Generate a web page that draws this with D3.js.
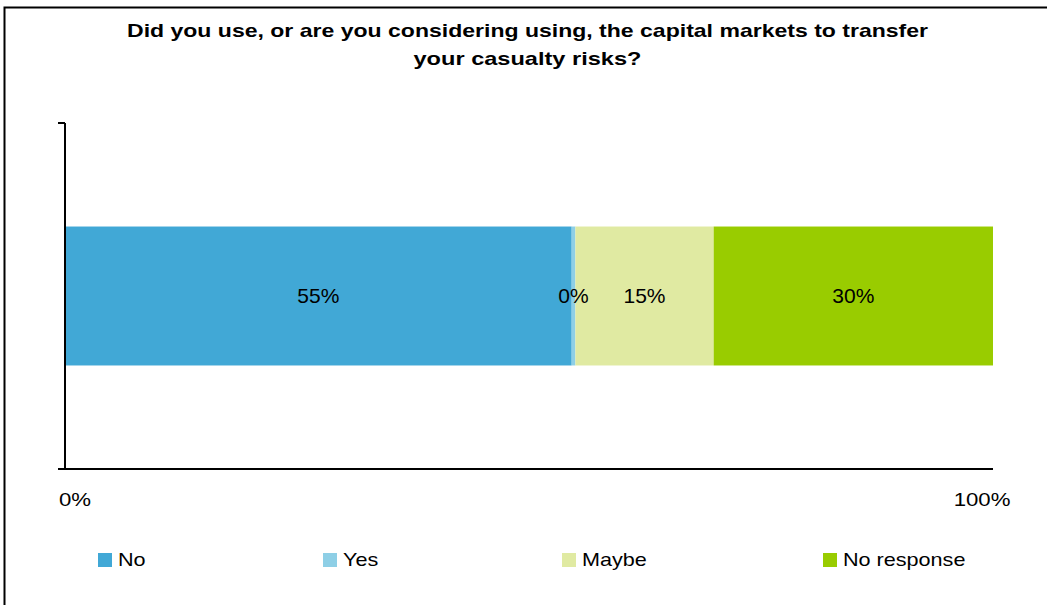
<!DOCTYPE html>
<html>
<head>
<meta charset="utf-8">
<script src="https://cdn.jsdelivr.net/npm/d3@7/dist/d3.min.js"></script>
<style>
  html, body { margin: 0; padding: 0; background: #fff; }
  svg { display: block; font-family: "Liberation Sans", Arial, sans-serif; }
</style>
</head>
<body>
<svg id="chart" width="1047" height="605"></svg>
<script>
// Survey responses (share of respondents, %)
const categories = ["No", "Yes", "Maybe", "No response"];
const values = [54.6, 0.4, 14.9, 30.1];
const colors = ["#41A8D6", "#8ECFE6", "#E0EAA2", "#99CC00"];
const tickValues = [0, 100];
const titleLines = [
  "Did you use, or are you considering using, the capital markets to transfer",
  "your casualty risks?"
];

const svg = d3.select("#chart");
const stretch = 1.2; // wide-set lettering for axis and legend text

// Frame around the chart area
svg.append("path")
  .attr("d", "M4.5,605 V7.5 H1047")
  .attr("fill", "none")
  .attr("stroke", "#000")
  .attr("stroke-width", 2);

// Title
const titleWidths = [801, 228];
svg.append("g").selectAll("text")
  .data(titleLines)
  .join("text")
  .attr("x", 527.5)
  .attr("y", (d, i) => 37 + i * 28)
  .attr("text-anchor", "middle")
  .attr("font-weight", "bold")
  .attr("font-size", 19)
  .attr("textLength", (d, i) => titleWidths[i])
  .attr("lengthAdjust", "spacingAndGlyphs")
  .attr("fill", "#000")
  .text(d => d);

const plot = { left: 65, right: 993, top: 123, bottom: 469 };

const x = d3.scaleLinear().domain([0, 100]).range([plot.left, plot.right]);
const y = d3.scaleBand().domain(["all"]).range([plot.top, plot.bottom])
  .paddingInner(0).paddingOuter(0.745);

// Stack the shares into one horizontal bar
const row = {};
categories.forEach((c, i) => { row[c] = values[i]; });
const stacked = d3.stack().keys(categories)([row]);

// Segments first, then all labels on top of them
svg.append("g").selectAll("rect")
  .data(stacked)
  .join("rect")
  .attr("x", d => x(d[0][0]))
  .attr("y", y("all"))
  .attr("width", d => x(d[0][1]) - x(d[0][0]))
  .attr("height", y.bandwidth())
  .attr("fill", (d, i) => colors[i]);

svg.append("g").selectAll("text")
  .data(stacked)
  .join("text")
  .attr("x", d => (x(d[0][0]) + x(d[0][1])) / 2)
  .attr("y", y("all") + y.bandwidth() / 2)
  .attr("dy", "0.35em")
  .attr("text-anchor", "middle")
  .attr("font-size", 21)
  .attr("fill", "#000")
  .text((d, i) => d3.format(".0f")(values[i]) + "%");

// Axes
const axisG = svg.append("g");
axisG.append("line")
  .attr("x1", x(0)).attr("x2", x(0))
  .attr("y1", plot.top).attr("y2", plot.bottom)
  .attr("stroke", "#000").attr("stroke-width", 2);
axisG.append("line")
  .attr("x1", x(0) - 7).attr("x2", x(0))
  .attr("y1", plot.top).attr("y2", plot.top)
  .attr("stroke", "#000").attr("stroke-width", 2);
axisG.append("line")
  .attr("x1", x(0) - 7).attr("x2", x(100))
  .attr("y1", plot.bottom).attr("y2", plot.bottom)
  .attr("stroke", "#000").attr("stroke-width", 2);

svg.append("g").selectAll("text")
  .data(tickValues)
  .join("text")
  .attr("transform", d => `translate(${x(d) + (d === 0 ? 10 : -11)},500) scale(${stretch},1)`)
  .attr("dy", "0.35em")
  .attr("text-anchor", "middle")
  .attr("font-size", 18.5)
  .attr("fill", "#000")
  .text(d => d + "%");

// Legend
const legendX = [98, 323, 562, 823];
const legend = svg.append("g").selectAll("g")
  .data(categories)
  .join("g")
  .attr("transform", (d, i) => `translate(${legendX[i]},560)`);
legend.append("rect")
  .attr("x", 0).attr("y", -7)
  .attr("width", 14).attr("height", 14)
  .attr("fill", (d, i) => colors[i]);
legend.append("text")
  .attr("transform", `translate(20,0) scale(${stretch},1)`)
  .attr("dy", "0.35em")
  .attr("font-size", 18)
  .attr("fill", "#000")
  .text(d => d);
</script>
</body>
</html>
